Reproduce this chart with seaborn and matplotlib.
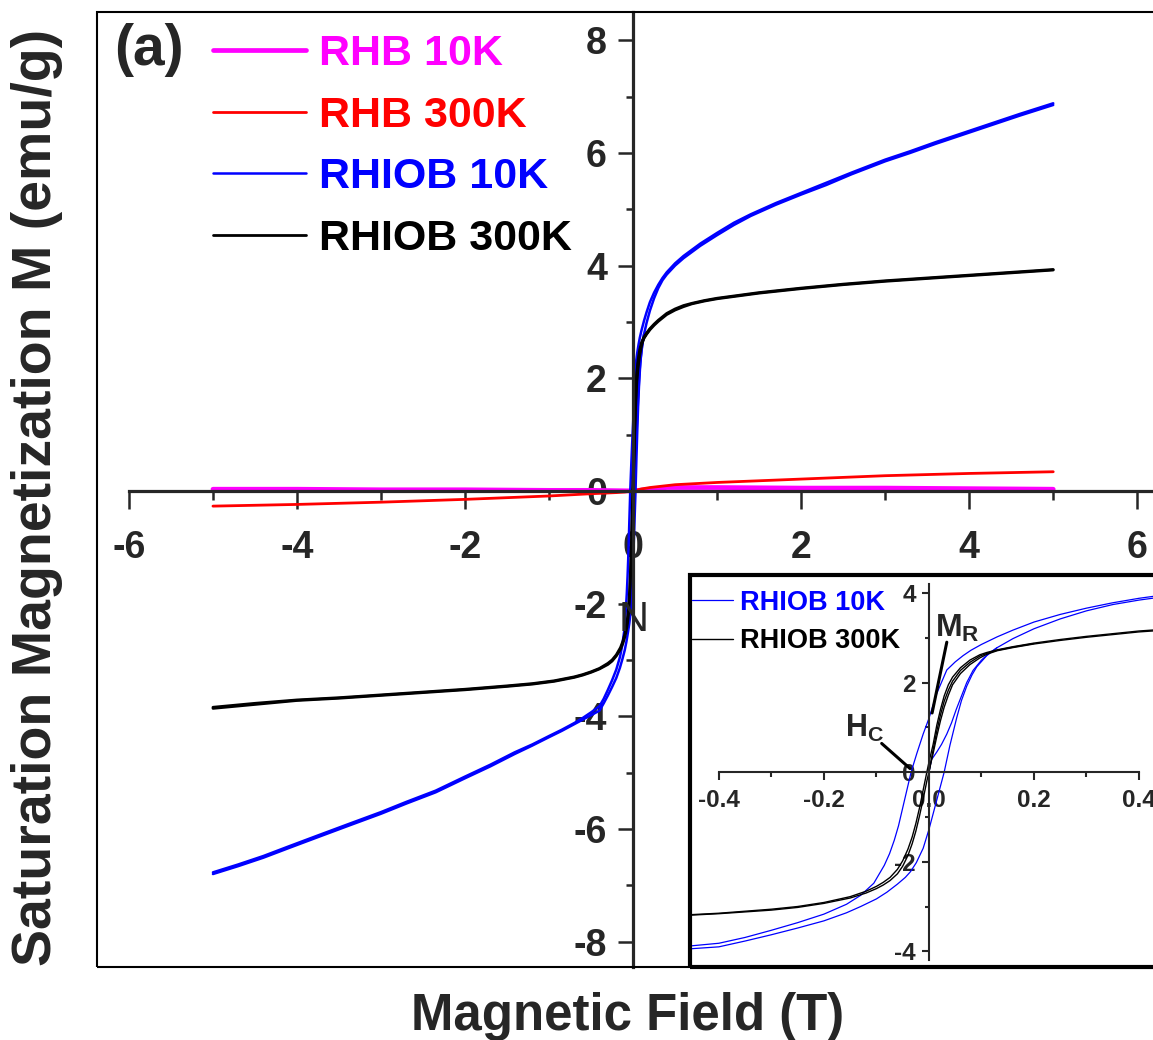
import matplotlib
matplotlib.use("Agg")
import matplotlib.pyplot as plt
import numpy as np
import seaborn as sns
from matplotlib.patches import Rectangle
from matplotlib.ticker import MultipleLocator

# ---- RHB sample (weak response) ----
rhb10_field = [-5, -4, -3, -2, -1, -0.5, 0, 0.4, 1, 2, 3, 4, 5]
rhb10_m = [0.03, 0.03, 0.02, 0.02, 0.01, 0.01, 0.0, 0.06, 0.06, 0.05, 0.05, 0.04, 0.03]

rhb300_field = [-5, -4, -3, -2, -1, -0.5, -0.2, -0.1, 0, 0.1, 0.2, 0.5, 1, 2, 3, 4, 5]
rhb300_m = [-0.27, -0.24, -0.2, -0.15, -0.09, -0.05, -0.03, -0.02, 0.0, 0.035, 0.06,
            0.11, 0.15, 0.21, 0.27, 0.31, 0.34]

# ---- RHIOB at 10 K: descending, ascending and initial branches ----
rhiob10_desc_field = [5, 4.6, 4.3, 4.0, 3.6, 3.3, 3.0, 2.6, 2.3, 2.0,
                      1.7, 1.4, 1.2, 1.0, 0.8, 0.6, 0.5, 0.4, 0.35, 0.3,
                      0.25, 0.2, 0.16, 0.13, 0.1, 0.08, 0.065, 0.05, 0.034, 0.015,
                      0.0, -0.011, -0.023, -0.034, -0.04, -0.049, -0.058, -0.066, -0.075, -0.085,
                      -0.105, -0.13, -0.157, -0.2, -0.25, -0.3, -0.35, -0.4, -0.5, -0.6,
                      -0.7, -0.85, -1.0, -1.2, -1.41, -1.7, -2.0, -2.35, -2.7, -3.0,
                      -3.4, -3.76, -4.1, -4.4, -4.7, -5]
rhiob10_desc_m = [6.88, 6.69, 6.54, 6.39, 6.19, 6.03, 5.88, 5.65, 5.47, 5.29,
                  5.11, 4.91, 4.76, 4.58, 4.39, 4.17, 4.04, 3.88, 3.78, 3.66,
                  3.52, 3.35, 3.17, 3.02, 2.85, 2.72, 2.6, 2.46, 2.28, 1.76,
                  1.2, 0.85, 0.42, 0.0, -0.3, -0.75, -1.2, -1.52, -1.82, -2.08,
                  -2.48, -2.75, -2.95, -3.17, -3.36, -3.53, -3.69, -3.82, -3.93, -4.03,
                  -4.12, -4.24, -4.35, -4.5, -4.64, -4.86, -5.07, -5.32, -5.52, -5.7,
                  -5.92, -6.12, -6.31, -6.48, -6.63, -6.77]

rhiob10_asc_field = [-5, -4.7, -4.4, -4.1, -3.76, -3.4, -3.0, -2.7, -2.35, -2.0,
                     -1.7, -1.41, -1.2, -1.0, -0.85, -0.7, -0.6, -0.5, -0.4, -0.35,
                     -0.3, -0.25, -0.2, -0.157, -0.13, -0.1, -0.08, -0.06, -0.045, -0.035,
                     -0.024, -0.011, 0.0, 0.015, 0.029, 0.04, 0.053, 0.062, 0.072, 0.082,
                     0.091, 0.11, 0.13, 0.16, 0.2, 0.25, 0.3, 0.35, 0.4, 0.5,
                     0.6, 0.8, 1.0, 1.2, 1.4, 1.7, 2.0, 2.3, 2.6, 3.0,
                     3.3, 3.6, 4.0, 4.3, 4.6, 5.0]
rhiob10_asc_m = [-6.8, -6.66, -6.51, -6.34, -6.15, -5.95, -5.73, -5.55, -5.35, -5.1,
                 -4.89, -4.67, -4.52, -4.37, -4.26, -4.14, -4.06, -3.98, -3.9, -3.77,
                 -3.63, -3.48, -3.32, -3.14, -3.0, -2.83, -2.68, -2.5, -2.35, -2.22,
                 -2.02, -1.7, -1.28, -0.62, 0.0, 0.6, 1.22, 1.6, 1.92, 2.17,
                 2.35, 2.6, 2.78, 2.98, 3.2, 3.42, 3.6, 3.74, 3.84, 4.0,
                 4.13, 4.35, 4.54, 4.72, 4.88, 5.08, 5.26, 5.43, 5.62, 5.85,
                 6.0, 6.16, 6.36, 6.51, 6.66, 6.85]

rhiob10_init_field = [0.0, 0.005, 0.015, 0.024, 0.034, 0.043, 0.052, 0.062, 0.072,
                      0.084, 0.1, 0.115, 0.13]
rhiob10_init_m = [0.0, 0.28, 0.45, 0.62, 0.85, 1.1, 1.4, 1.7, 2.0,
                  2.27, 2.5, 2.66, 2.78]

# ---- RHIOB at 300 K ----
rhiob300_desc_field = [5, 4.5, 4.0, 3.5, 3.0, 2.5, 2.0, 1.5, 1.25, 1.0,
                       0.85, 0.7, 0.6, 0.5, 0.4, 0.3, 0.25, 0.2, 0.16, 0.13,
                       0.11, 0.097, 0.078, 0.06, 0.045, 0.037, 0.029, 0.022, 0.015, 0.008,
                       0.0, -0.004, -0.011, -0.018, -0.025, -0.032, -0.04, -0.05, -0.06, -0.074,
                       -0.087, -0.1, -0.12, -0.15, -0.2, -0.25, -0.3, -0.4, -0.5, -0.6,
                       -0.7, -0.94, -1.2, -1.5, -2.0, -2.5, -3.0, -3.5, -4.0, -4.5, -5]
rhiob300_desc_m = [3.93, 3.88, 3.83, 3.78, 3.73, 3.67, 3.6, 3.52, 3.47, 3.42,
                   3.38, 3.33, 3.29, 3.23, 3.15, 3.03, 2.96, 2.88, 2.8, 2.73,
                   2.67, 2.62, 2.5, 2.33, 2.12, 1.95, 1.7, 1.4, 1.05, 0.62,
                   0.22, 0.0, -0.4, -0.8, -1.15, -1.45, -1.72, -1.98, -2.17, -2.35,
                   -2.46, -2.55, -2.66, -2.78, -2.91, -3.0, -3.06, -3.15, -3.21, -3.26,
                   -3.3, -3.37, -3.42, -3.46, -3.52, -3.57, -3.62, -3.67, -3.71, -3.77, -3.84]

rhiob300_asc_field = [-5, -4.5, -4.0, -3.5, -3.0, -2.5, -2.0, -1.5, -1.2, -0.94,
                      -0.7, -0.6, -0.5, -0.4, -0.3, -0.25, -0.2, -0.15, -0.12, -0.1,
                      -0.087, -0.074, -0.06, -0.05, -0.04, -0.032, -0.025, -0.018, -0.011, -0.004,
                      0.0, 0.004, 0.008, 0.015, 0.022, 0.029, 0.037, 0.045, 0.06, 0.078,
                      0.097, 0.11, 0.13, 0.16, 0.2, 0.25, 0.3, 0.4, 0.5, 0.6,
                      0.7, 0.85, 1.0, 1.25, 1.5, 2.0, 2.5, 3.0, 3.5, 4.0, 4.5, 5.0]
rhiob300_asc_m = [-3.86, -3.79, -3.72, -3.68, -3.63, -3.58, -3.53, -3.47, -3.43, -3.38,
                  -3.31, -3.27, -3.22, -3.16, -3.08, -3.02, -2.93, -2.81, -2.7, -2.6,
                  -2.52, -2.42, -2.27, -2.1, -1.86, -1.6, -1.32, -0.98, -0.6, -0.2,
                  0.0, 0.22, 0.42, 0.8, 1.15, 1.45, 1.72, 1.95, 2.2, 2.4,
                  2.55, 2.63, 2.71, 2.78, 2.86, 2.94, 3.01, 3.13, 3.21, 3.27,
                  3.32, 3.37, 3.41, 3.46, 3.51, 3.59, 3.66, 3.72, 3.77, 3.82, 3.87, 3.92]

rhiob300_init_field = [0, 0.008, 0.015, 0.022, 0.029, 0.037, 0.045, 0.06, 0.078,
                       0.097, 0.11, 0.13, 0.16, 0.2]
rhiob300_init_m = [0, 0.5, 0.92, 1.28, 1.58, 1.83, 2.03, 2.27, 2.45,
                   2.59, 2.65, 2.72, 2.79, 2.87]

series_labels = ["RHB 10K", "RHB 300K", "RHIOB 10K", "RHIOB 300K"]
series_colors = ["#ff00ff", "#ff0000", "#0000ff", "#000000"]

# ---- style ----
sns.set_style("ticks")
plt.rcParams["font.family"] = ["Liberation Sans", "DejaVu Sans"]
plt.rcParams["font.weight"] = "bold"
plt.rcParams["axes.unicode_minus"] = False
plt.rcParams["mathtext.fontset"] = "custom"
plt.rcParams["mathtext.rm"] = "Liberation Sans"
plt.rcParams["mathtext.bf"] = "Liberation Sans:bold"

W, H = 1153, 1040
fig = plt.figure(figsize=(W / 100, H / 100), dpi=100)


def px_rect(left, top, right, bottom):
    return [left / W, 1 - bottom / H, (right - left) / W, (bottom - top) / H]


def draw(axis, f, m, color, lw):
    sns.lineplot(x=f, y=m, ax=axis, color=color, lw=lw, sort=False,
                 estimator=None, legend=False)
    return axis.lines[-1]


def center_spines(axis, frame_lw, spine_lw, xb, yb):
    for s in ["top", "right"]:
        axis.spines[s].set_visible(False)
    axis.spines["left"].set_position(("data", 0))
    axis.spines["bottom"].set_position(("data", 0))
    axis.spines["left"].set_linewidth(spine_lw)
    axis.spines["bottom"].set_linewidth(spine_lw)
    axis.spines["bottom"].set_bounds(*xb)
    axis.spines["left"].set_bounds(*yb)
    axis.add_patch(Rectangle((0, 0), 1, 1, transform=axis.transAxes, fill=False,
                             ec="black", lw=frame_lw, clip_on=False, zorder=4))


# ---- main panel ----
ax = fig.add_axes(px_rect(97, 12, 1165, 967))
XMAX = 6.33
ax.set_xlim(-6.38, XMAX)
ax.set_ylim(-8.45, 8.5)

h_m = draw(ax, rhb10_field, rhb10_m, series_colors[0], 3.4)
h_r = draw(ax, rhb300_field, rhb300_m, series_colors[1], 2.0)
h_b = draw(ax, rhiob10_desc_field, rhiob10_desc_m, series_colors[2], 1.8)
draw(ax, rhiob10_asc_field, rhiob10_asc_m, series_colors[2], 1.8)
draw(ax, rhiob10_init_field, rhiob10_init_m, series_colors[2], 1.8)
h_k = draw(ax, rhiob300_desc_field, rhiob300_desc_m, series_colors[3], 2.0)
draw(ax, rhiob300_asc_field, rhiob300_asc_m, series_colors[3], 2.0)
draw(ax, rhiob300_init_field, rhiob300_init_m, series_colors[3], 2.0)

center_spines(ax, 1.5, 2.3, (-6, XMAX), (-8.45, 8.5))
ax.xaxis.set_major_locator(MultipleLocator(2))
ax.xaxis.set_minor_locator(MultipleLocator(1))
ax.yaxis.set_major_locator(MultipleLocator(2))
ax.yaxis.set_minor_locator(MultipleLocator(1))
ax.tick_params(axis="x", which="major", direction="out", length=13, width=1.8,
               pad=15, labelsize=27)
ax.tick_params(axis="x", which="minor", direction="out", length=6.5, width=1.8)
ax.tick_params(axis="y", which="major", direction="out", length=10.8, width=1.8,
               pad=8, labelsize=27)
ax.tick_params(axis="y", which="minor", direction="out", length=5.4, width=1.8)
ax.set_xlabel("")
ax.set_ylabel("")

ax.legend(handles=[h_m, h_r, h_b, h_k], labels=series_labels, loc="upper left",
          bbox_to_anchor=(0.1086, 0.9768), frameon=False,
          prop=dict(weight="bold", size=31),
          handlelength=2.16, handletextpad=0.3, labelspacing=0.5,
          borderpad=0, borderaxespad=0, labelcolor="linecolor")

ax.text(0.01, -2.29, "N", fontsize=30, fontweight="normal",
        ha="center", va="center")

# ---- inset: low-field detail of RHIOB loops ----
axin = fig.add_axes(px_rect(690, 575, 1165, 967), zorder=5)
axin.set_facecolor("white")
IXMAX = 0.4495
axin.set_xlim(-0.455, IXMAX)
axin.set_ylim(-4.35, 4.4)

i_b = draw(axin, rhiob10_desc_field, rhiob10_desc_m, series_colors[2], 0.9)
draw(axin, rhiob10_asc_field, rhiob10_asc_m, series_colors[2], 0.9)
draw(axin, rhiob10_init_field, rhiob10_init_m, series_colors[2], 0.9)
i_k = draw(axin, rhiob300_desc_field, rhiob300_desc_m, series_colors[3], 1.0)
draw(axin, rhiob300_asc_field, rhiob300_asc_m, series_colors[3], 1.0)
draw(axin, rhiob300_init_field, rhiob300_init_m, series_colors[3], 1.0)

center_spines(axin, 3.0, 1.5, (-0.4, 0.4), (-4.2, 4.2))
axin.xaxis.set_major_locator(MultipleLocator(0.2))
axin.xaxis.set_minor_locator(MultipleLocator(0.1))
axin.yaxis.set_major_locator(MultipleLocator(2))
axin.yaxis.set_minor_locator(MultipleLocator(1))
axin.tick_params(axis="x", which="major", direction="out", length=5.8, width=1.5,
                 pad=6.5, labelsize=17.5)
axin.tick_params(axis="x", which="minor", direction="out", length=3.6, width=1.5)
axin.tick_params(axis="y", which="major", direction="out", length=5, width=1.5,
                 pad=4.5, labelsize=17.5)
axin.tick_params(axis="y", which="minor", direction="out", length=3.2, width=1.5)
axin.set_xlabel("")
axin.set_ylabel("")

axin.legend(handles=[i_b, i_k], labels=series_labels[2:], loc="upper left",
            bbox_to_anchor=(0.004, 0.962), frameon=False,
            prop=dict(weight="bold", size=19.5),
            handlelength=1.5, handletextpad=0.28, labelspacing=0.46,
            borderpad=0, borderaxespad=0, labelcolor="linecolor")

# remanence and coercivity markers
axin.annotate("", xy=(0.006, 1.32), xytext=(0.034, 2.90),
              arrowprops=dict(arrowstyle="-", lw=2.2, color="black", shrinkA=0, shrinkB=0))
axin.text(0.0114, 3.01, r"$\mathbf{M_R}$", fontsize=23, ha="left", va="baseline")
axin.annotate("", xy=(-0.036, 0.08), xytext=(-0.09, 0.64),
              arrowprops=dict(arrowstyle="-", lw=2.2, color="black", shrinkA=0, shrinkB=0))
axin.text(-0.16, 0.78, r"$\mathbf{H_C}$", fontsize=22, ha="left", va="baseline")

# ---- figure-level labels ----
fig.text(114 / W, 1 - 50 / H, "(a)", fontsize=41, ha="left", va="center")
fig.text(628 / W, 10 / H, "Magnetic Field (T)", fontsize=36.7, ha="center",
         va="baseline")
fig.text(37 / W, 1 - 497 / H, "Saturation Magnetization M (emu/g)", fontsize=40,
         rotation=90, ha="center", va="center")

fig.savefig("out.png", dpi=100)
